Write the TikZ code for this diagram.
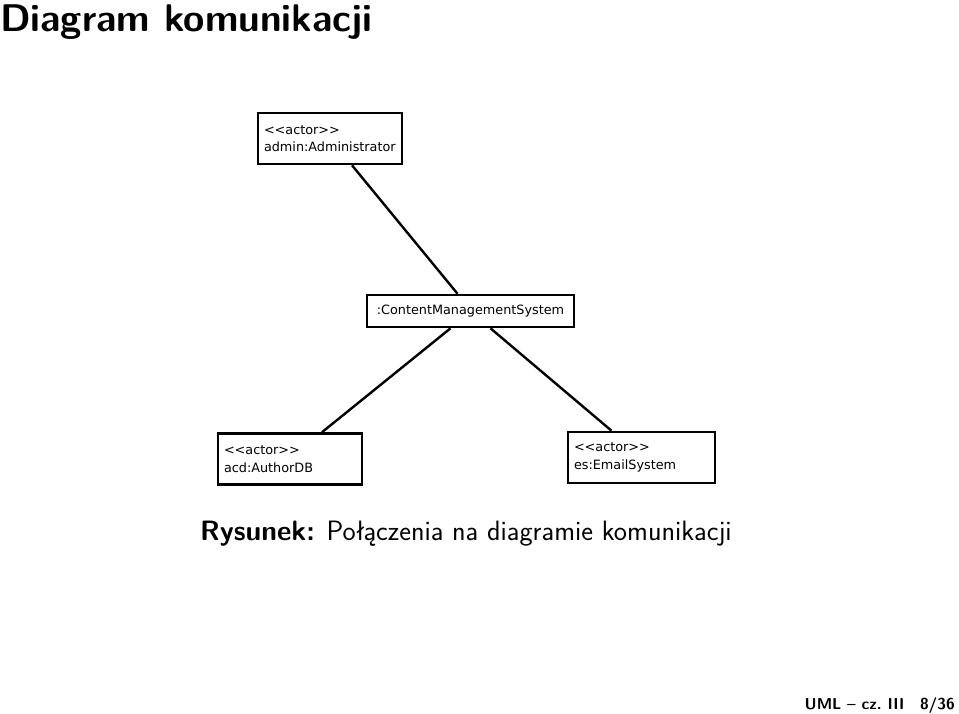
\documentclass[tikz,border=0pt]{standalone}
\usepackage{fontspec}
\setsansfont{Latin Modern Sans}
\newfontfamily\boxfont{DejaVu Sans}
\newcommand{\stereotype}[1]{<\kern0pt<#1>\kern0pt>}
\begin{document}
\begin{tikzpicture}[
    x=1pt, y=-1pt,
    obj/.style={rectangle, draw=black, line width=2.6pt, minimum height=51pt, text width=132pt, inner xsep=6pt, align=left, font=\boxfont\fontsize{12.8}{17.5}\selectfont},
    link/.style={line width=2.4pt, black}
]
\useasboundingbox (0,0) rectangle (959,713);
% slide title and footer
\node[anchor=base west, inner sep=0pt, font=\sffamily\bfseries\fontsize{38.6}{42}\selectfont] (title) at (0,31) {Diagram komunikacji};
\node[anchor=base east, inner sep=0pt, font=\sffamily\bfseries\fontsize{15.8}{17}\selectfont] (foot) at (955,709) {UML -- cz.~III\quad 8/36};

% objects
\node[obj] (admin) at (330,138.5) {\stereotype{actor}\\admin:Administrator};
\node[obj, text width=195pt, minimum height=32pt, align=center] (cms) at (470.5,311) {:ContentManagementSystem};
\node[obj] (author) at (290,459) {\stereotype{actor}\\acd:AuthorDB};
\node[obj, text width=135pt] (email) at (641.5,457.5) {\stereotype{actor}\\es:EmailSystem};

% links
\draw[link] ([xshift=22pt]admin.south) -- ([xshift=-13pt]cms.north);
\draw[link] ([xshift=-20pt]cms.south) -- ([xshift=32pt]author.north);
\draw[link] ([xshift=20pt]cms.south) -- ([xshift=-30pt]email.north);

% caption
\node[anchor=base west, inner sep=0pt, font=\sffamily\fontsize{28}{32}\selectfont] (caption) at (200,540) {\textbf{Rysunek:} Połączenia na diagramie komunikacji};
\end{tikzpicture}
\end{document}
